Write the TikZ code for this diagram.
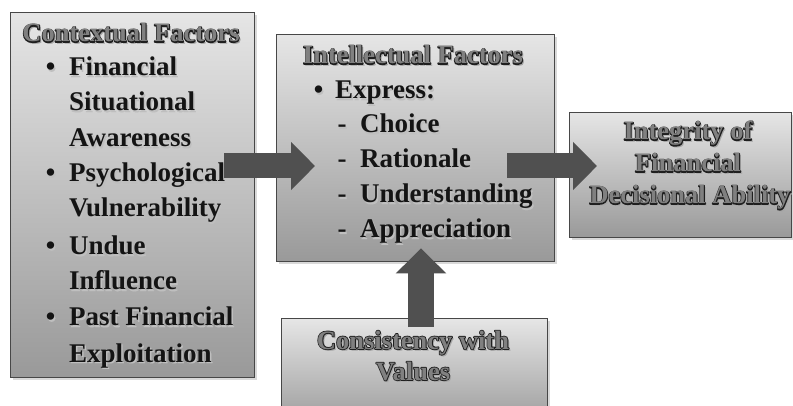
\documentclass[tikz,border=0pt]{standalone}
\usepackage{fontspec}
\setmainfont{Liberation Serif}
\usetikzlibrary{arrows.meta,shadows,calc}
\definecolor{arrowgray}{HTML}{505050}
\newcommand\bodytxt[1]{\leavevmode\rlap{\kern1.2pt\raisebox{-1.2pt}{\special{pdf:literal direct 2 Tr 0 w}\textcolor{black!25}{#1}\special{pdf:literal direct 0 Tr}}}\textcolor{black!92}{#1}}
\newcommand\embtxt[1]{\leavevmode\rlap{\kern1.6pt\raisebox{-1.6pt}{\special{pdf:literal direct 2 Tr 0 w}\textcolor{black!35}{#1}\special{pdf:literal direct 0 Tr}}}\rlap{\special{pdf:literal direct 1 Tr 1.7 w 1 j}\textcolor{black!88}{#1}\special{pdf:literal direct 0 Tr 0 j}}\textcolor{black!50}{#1}}
\begin{document}
\begin{tikzpicture}[x=1pt,y=-1pt,
  box/.style={draw=black!72, line width=1.4pt, top color=black!10, bottom color=black!40,
    rectangle, inner sep=0pt, anchor=north west,
    drop shadow={opacity=0.3, shadow xshift=2pt, shadow yshift=-2pt}},
  txt/.style={font=\fontsize{27}{32}\selectfont\bfseries, inner sep=0pt, anchor=base west},
  ttl/.style={font=\fontsize{26.5}{32}\selectfont\bfseries, inner sep=0pt, anchor=base},
  blockarrow/.style={draw=arrowgray, line width=25pt, -{Triangle[length=24pt,width=47pt]}}]
\useasboundingbox (0,0) rectangle (793,406);
% boxes
\node[box, minimum width=244pt, minimum height=365pt] (ctx) at (10,12) {};
\node[box, minimum width=278pt, minimum height=227pt] (intel) at (276,34) {};
\node[box, minimum width=222pt, minimum height=125pt] (integ) at (569,112) {};
\node[box, minimum width=266pt, minimum height=110pt] (cons) at (281,318) {};
% contextual factors
\node[ttl] (ctxt) at (131,42) {\embtxt{Contextual Factors}};
\node[txt, anchor=base] (cb1) at (50.5,76) {\bodytxt{•}};
\node[txt] (c1) at (69,76) {\bodytxt{Financial}};
\node[txt] (c2) at (69,111) {\bodytxt{Situational}};
\node[txt] (c3) at (69,147) {\bodytxt{Awareness}};
\node[txt, anchor=base] (cb2) at (50.5,182) {\bodytxt{•}};
\node[txt] (c4) at (69,182) {\bodytxt{Psychological}};
\node[txt] (c5) at (69,217) {\bodytxt{Vulnerability}};
\node[txt, anchor=base] (cb3) at (50.5,255) {\bodytxt{•}};
\node[txt] (c6) at (69,255) {\bodytxt{Undue}};
\node[txt] (c7) at (69,290) {\bodytxt{Influence}};
\node[txt, anchor=base] (cb4) at (50.5,326) {\bodytxt{•}};
\node[txt] (c8) at (69,326) {\bodytxt{Past Financial}};
\node[txt] (c9) at (69,362) {\bodytxt{Exploitation}};
% intellectual factors
\node[ttl] (intt) at (413,64) {\embtxt{Intellectual Factors}};
\node[txt, anchor=base] (ib1) at (318.5,99) {\bodytxt{•}};
\node[txt] (i1) at (335,99) {\bodytxt{Express:}};
\node[txt, anchor=base] (id1) at (342,133) {\bodytxt{-}};
\node[txt] (i2) at (360,133) {\bodytxt{Choice}};
\node[txt, anchor=base] (id2) at (342,168) {\bodytxt{-}};
\node[txt] (i3) at (360,168) {\bodytxt{Rationale}};
\node[txt, anchor=base] (id3) at (342,203) {\bodytxt{-}};
\node[txt] (i4) at (360,203) {\bodytxt{Understanding}};
\node[txt, anchor=base] (id4) at (342,238) {\bodytxt{-}};
\node[txt] (i5) at (360,238) {\bodytxt{Appreciation}};
% integrity
\node[ttl] (g1) at (688,140) {\embtxt{Integrity of}};
\node[ttl] (g2) at (688,172) {\embtxt{Financial}};
\node[ttl] (g3) at (690,204) {\embtxt{Decisional Ability}};
% consistency
\node[ttl] (k1) at (413,349) {\embtxt{Consistency with}};
\node[ttl] (k2) at (413,380) {\embtxt{Values}};
% arrows
\draw[blockarrow] ($(ctx.east |- 0,166)+(-31,0)$) -- ($(intel.west |- 0,166)+(39,0)$);
\draw[blockarrow] ($(intel.east |- 0,166)+(-48,0)$) -- ($(integ.west |- 0,166)+(28,0)$);
\draw[blockarrow, line width=26pt, -{Triangle[length=25pt,width=49pt]}] ($(cons.north -| 421,0)+(0,9)$) -- ($(intel.south -| 421,0)+(0,-14)$);
\end{tikzpicture}
\end{document}
